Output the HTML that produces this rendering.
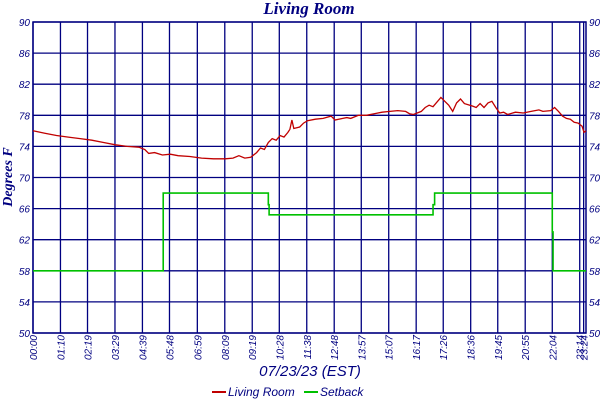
<!DOCTYPE html>
<html><head><meta charset="utf-8"><style>
body{margin:0;background:#fff;width:600px;height:400px;overflow:hidden}
svg text{font-family:"Liberation Sans",sans-serif;font-style:italic;fill:#000080}
</style></head><body>
<svg id="c" width="600" height="400" xmlns="http://www.w3.org/2000/svg">
<text x="309" y="14" text-anchor="middle" style="font-family:'Liberation Serif',serif;font-weight:bold;font-size:17px">Living Room</text>
<text transform="translate(12,177) rotate(-90)" text-anchor="middle" style="font-family:'Liberation Serif',serif;font-weight:bold;font-size:14px">Degrees F</text>
<text x="310" y="376" text-anchor="middle" style="font-size:15px">07/23/23 (EST)</text>
<g>
<line x1="212" y1="392" x2="226" y2="392" stroke="#c00000" stroke-width="2"/>
<text x="228" y="396" style="font-size:12px">Living Room</text>
<line x1="304" y1="392" x2="318" y2="392" stroke="#00c000" stroke-width="2"/>
<text x="320" y="396" style="font-size:12px">Setback</text>
</g>
<g id="grid"></g><g id="series"></g><g id="labels"></g>
</svg>
<script>
const yTicks=[50,54,58,62,66,70,74,78,82,86,90];
const xTickMin=[0,70,139,209,279,348,419,489,559,628,698,768,837,907,977,1046,1116,1185,1255,1324,1394,1404];
const xTickLabels=["00:00","01:10","02:19","03:29","04:39","05:48","06:59","08:09","09:19","10:28","11:38","12:48","13:57","15:07","16:17","17:26","18:36","19:45","20:55","22:04","23:14","23:24"];
const tempMin=[0,30,60,90,120,150,180,210,240,270,285,295,310,330,350,370,400,430,460,490,510,525,540,555,570,580,590,600,610,620,630,640,650,655,660,665,680,690,700,720,740,760,770,790,800,810,830,850,870,890,910,930,950,960,970,990,1000,1010,1020,1040,1050,1060,1070,1080,1090,1100,1120,1130,1140,1150,1160,1170,1180,1190,1200,1210,1230,1250,1270,1290,1300,1320,1330,1340,1350,1360,1370,1380,1390,1400,1405,1410];
const tempVal=[76,75.7,75.4,75.2,75,74.8,74.5,74.2,74,73.9,73.6,73.1,73.2,72.9,73,72.8,72.7,72.5,72.4,72.4,72.5,72.8,72.5,72.6,73.2,73.8,73.6,74.5,75,74.8,75.4,75.2,75.8,76.2,77.4,76.3,76.5,77,77.3,77.5,77.6,77.9,77.4,77.6,77.7,77.6,78,78,78.2,78.4,78.5,78.6,78.5,78.2,78.1,78.5,79,79.3,79.1,80.3,79.8,79.3,78.5,79.6,80.1,79.5,79.2,79,79.5,79,79.6,79.8,79,78.3,78.4,78.1,78.4,78.3,78.5,78.7,78.5,78.6,79,78.5,77.9,77.6,77.5,77.1,77,76.6,75.8,76];
const setMin=[0,332,600,602,1020,1024,1324,1326,1410];
const setVal=[58,68,66.5,65.2,66.5,68,63,58,58];
const X0=33,X1=586,Y0=333,Y1=22,MAXM=1410;
const xs=m=>X0+(m/MAXM)*(X1-X0);
const ys=v=>Y0-(v-50)/(40)*(Y0-Y1);
const NS="http://www.w3.org/2000/svg";
const g=document.getElementById('grid'),s=document.getElementById('series'),lb=document.getElementById('labels');
function mk(tag,a,p){const e=document.createElementNS(NS,tag);for(const k in a)e.setAttribute(k,a[k]);p.appendChild(e);return e;}
yTicks.forEach(v=>{
 const l=mk('line',{x1:X0,x2:X1,y1:ys(v),y2:ys(v),stroke:'#000080','stroke-width':1.3},g);
 
 
 const t=mk('text',{x:X0-3,y:ys(v)+4,'text-anchor':'end','font-size':'10'},lb);t.textContent=v;
 
 
 const t2=mk('text',{x:X1+3,y:ys(v)+4,'font-size':'10'},lb);t2.textContent=v;
 
 
});
xTickMin.forEach((m,i)=>{
 const l=mk('line',{x1:xs(m),x2:xs(m),y1:Y1,y2:Y0,stroke:'#000080','stroke-width':1.3},g);
 
 
 const t=mk('text',{transform:`translate(${xs(m)+4},${Y0+2}) rotate(-90)`,'text-anchor':'end','font-size':'10'},lb);t.textContent=xTickLabels[i];
 
 
});
const fr=mk('rect',{x:X0,y:Y1,width:X1-X0,height:Y0-Y1,fill:'none',stroke:'#000080','stroke-width':1.5},g);


function step(ms,vs){let d='M'+xs(ms[0])+','+ys(vs[0]);for(let i=1;i<ms.length;i++){d+='H'+xs(ms[i])+'V'+ys(vs[i]);}return d;}
function poly(ms,vs){return ms.map((m,i)=>(i?'L':'M')+xs(m).toFixed(1)+','+ys(vs[i]).toFixed(1)).join('');}
const sp=mk('path',{d:step(setMin,setVal),fill:'none',stroke:'#00c000','stroke-width':1.6},s);


const tp=mk('path',{d:poly(tempMin,tempVal),fill:'none',stroke:'#c00000','stroke-width':1.3},s);


</script>
</body></html>
